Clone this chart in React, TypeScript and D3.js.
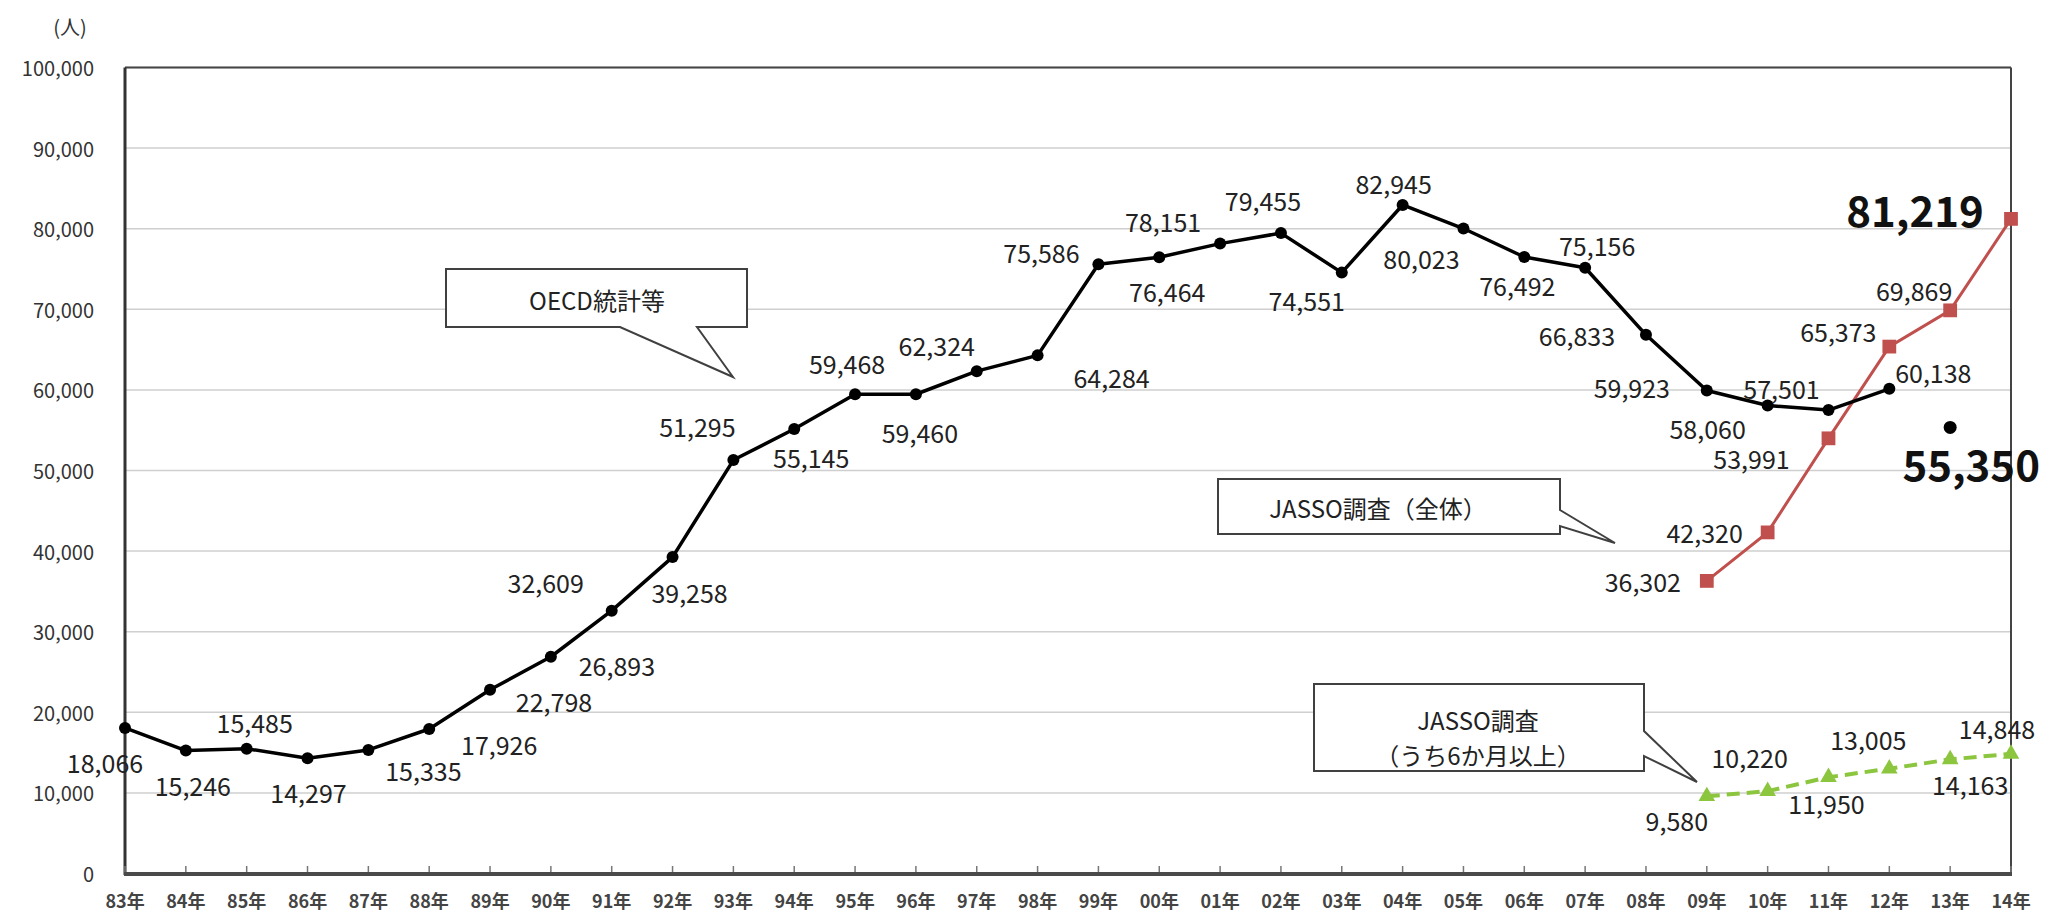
import * as d3 from 'd3';
import { useEffect } from 'react';

// x axis categories (83年 .. 14年)
const years = [
  '83', '84', '85', '86', '87', '88', '89', '90', '91', '92', '93', '94', '95', '96', '97', '98',
  '99', '00', '01', '02', '03', '04', '05', '06', '07', '08', '09', '10', '11', '12', '13', '14',
];

// OECD統計等 (83 .. 12)
const oecdYears = years.slice(0, 30);
const oecdValues = [
  18066, 15246, 15485, 14297, 15335, 17926, 22798, 26893, 32609, 39258, 51295, 55145, 59468,
  59460, 62324, 64284, 75586, 76464, 78151, 79455, 74551, 82945, 80023, 76492, 75156, 66833,
  59923, 58060, 57501, 60138,
];

// JASSO調査 (09 .. 14)
const jassoYears = ['09', '10', '11', '12', '13', '14'];
const jassoAllValues = [36302, 42320, 53991, 65373, 69869, 81219];
const jassoLongValues = [9580, 10220, 11950, 13005, 14163, 14848];

// lone point
const extraYear = '13';
const extraValue = 55350;

const yTicks = [0, 10000, 20000, 30000, 40000, 50000, 60000, 70000, 80000, 90000, 100000];

// label nudges (px from the point to the text centre)
const oecdLabelOffset: [number, number][] = [
  [-20, 34], [7, 34], [8, -27], [1, 34], [55, 20], [70, 15], [64, 11], [66, 8], [-66, -29],
  [17, 35], [-36, -34], [17, 28], [-8, -31], [4, 38], [-40, -26], [74, 22], [-57, -12],
  [8, 34], [-57, -23], [-18, -33], [-35, 27], [-9, -22], [-42, 29], [-7, 28], [12, -23],
  [-69, 0], [-75, -4], [-60, 22], [-47, -22], [44, -17],
];
const allLabelOffset: [number, number][] = [[-64, 0], [-63, 0], [-77, 20], [-51, -16], [-36, -20], [-96, -10]];
const longLabelOffset: [number, number][] = [[-30, 24], [-18, -34], [-2, 26], [-21, -30], [20, 25], [-14, -26]];

const FONT = '"Noto Sans CJK JP", "Noto Sans", sans-serif';
const W = 2050;
const H = 912;
const RED = '#c0504d';
const GREEN = '#8cc63f';

export default function App() {
  useEffect(() => {
    document.body.style.margin = '0';
  }, []);

  const x = d3.scalePoint<string>().domain(years).range([125, 2011]);
  const y = d3.scaleLinear().domain([0, 100000]).range([873.5, 67.5]);
  const fmt = d3.format(',');

  const oecdLine = d3
    .line<number>()
    .x((_, i) => x(oecdYears[i])!)
    .y((d) => y(d));
  const jassoLine = d3
    .line<number>()
    .x((_, i) => x(jassoYears[i])!)
    .y((d) => y(d));

  const square = d3.symbol(d3.symbolSquare, 190)();
  const triangle = d3.symbol(d3.symbolTriangle, 120)();

  return (
    <svg width={W} height={H} style={{ display: 'block', background: '#fff' }} fontFamily={FONT}>
      {/* grid */}
      {yTicks.map((t) => (
        <line key={t} x1={125} x2={2011} y1={y(t)} y2={y(t)} stroke='#cfcfcf' strokeWidth={1.5} />
      ))}
      {/* y tick labels */}
      {yTicks.map((t) => (
        <text key={'yl' + t} x={94} y={y(t)} textAnchor='end' dominantBaseline='central' fontSize={20} fill='#333'>
          {fmt(t)}
        </text>
      ))}
      <text x={70} y={26} textAnchor='middle' dominantBaseline='central' fontSize={20} fill='#333'>
        (人)
      </text>

      {/* frame */}
      <line x1={125} x2={2011} y1={67.5} y2={67.5} stroke='#444' strokeWidth={2} />
      <line x1={2011} x2={2011} y1={67.5} y2={873.5} stroke='#444' strokeWidth={2} />
      <line x1={125} x2={125} y1={67.5} y2={875} stroke='#333' strokeWidth={3} />
      <line x1={124} x2={2012} y1={874} y2={874} stroke='#4a4a4a' strokeWidth={4} />
      {years.map((yr) => (
        <line key={'tk' + yr} x1={x(yr)} x2={x(yr)} y1={872} y2={866} stroke='#777' strokeWidth={1.5} />
      ))}
      {years.map((yr) => (
        <text
          key={'xl' + yr}
          x={x(yr)}
          y={900}
          textAnchor='middle'
          dominantBaseline='central'
          fontSize={18}
          fontWeight={700}
          fill='#444'
        >
          {yr}年
        </text>
      ))}

      {/* callouts */}
      <g fill='#fff' stroke='#404040' strokeWidth={2}>
        <path d='M446,269 H747 V327 H697 L733,377 L620,327 H446 Z' />
        <path d='M1218,479 H1560 V510 L1615,543 L1560,526 V534 H1218 Z' />
        <path d='M1314,684 H1644 V731 L1697,782 L1644,756 V771 H1314 Z' />
      </g>
      <g fontSize={24} fill='#222' textAnchor='middle' dominantBaseline='central'>
        <text x={597} y={299}>OECD統計等</text>
        <text x={1378} y={507}>JASSO調査（全体）</text>
        <text x={1478} y={719}>JASSO調査</text>
        <text x={1478} y={754}>（うち6か月以上）</text>
      </g>

      {/* green dashed JASSO (6 months+) */}
      <path d={jassoLine(jassoLongValues) ?? ''} fill='none' stroke={GREEN} strokeWidth={4} strokeDasharray='13 7' />
      {jassoLongValues.map((v, i) => (
        <path key={'gt' + i} d={triangle ?? ''} transform={`translate(${x(jassoYears[i])},${y(v)})`} fill={GREEN} />
      ))}

      {/* red JASSO total */}
      <path d={jassoLine(jassoAllValues) ?? ''} fill='none' stroke={RED} strokeWidth={3} />
      {jassoAllValues.map((v, i) => (
        <path key={'rs' + i} d={square ?? ''} transform={`translate(${x(jassoYears[i])},${y(v)})`} fill={RED} />
      ))}

      {/* black OECD */}
      <path d={oecdLine(oecdValues) ?? ''} fill='none' stroke='#000' strokeWidth={3.5} strokeLinejoin='round' />
      {oecdValues.map((v, i) => (
        <circle key={'bc' + i} cx={x(oecdYears[i])} cy={y(v)} r={6} fill='#000' />
      ))}
      <circle cx={x(extraYear)} cy={y(extraValue)} r={6.5} fill='#000' />

      {/* value labels */}
      <g fontSize={25} fill='#222' textAnchor='middle' dominantBaseline='central'>
        {oecdValues.map((v, i) => (
          <text
            key={'ol' + i}
            x={x(oecdYears[i])! + oecdLabelOffset[i][0]}
            y={y(v) + oecdLabelOffset[i][1]}
          >
            {fmt(v)}
          </text>
        ))}
        {jassoAllValues.slice(0, 5).map((v, i) => (
          <text key={'al' + i} x={x(jassoYears[i])! + allLabelOffset[i][0]} y={y(v) + allLabelOffset[i][1]}>
            {fmt(v)}
          </text>
        ))}
        {jassoLongValues.map((v, i) => (
          <text key={'ll' + i} x={x(jassoYears[i])! + longLabelOffset[i][0]} y={y(v) + longLabelOffset[i][1]}>
            {fmt(v)}
          </text>
        ))}
      </g>
      <g fontSize={42} fontWeight={700} fill='#111' textAnchor='middle' dominantBaseline='central'>
        <text x={x('14')! + allLabelOffset[5][0]} y={y(jassoAllValues[5]) + allLabelOffset[5][1]}>
          {fmt(jassoAllValues[5])}
        </text>
        <text x={x(extraYear)! + 21} y={y(extraValue) + 35}>
          {fmt(extraValue)}
        </text>
      </g>
    </svg>
  );
}
